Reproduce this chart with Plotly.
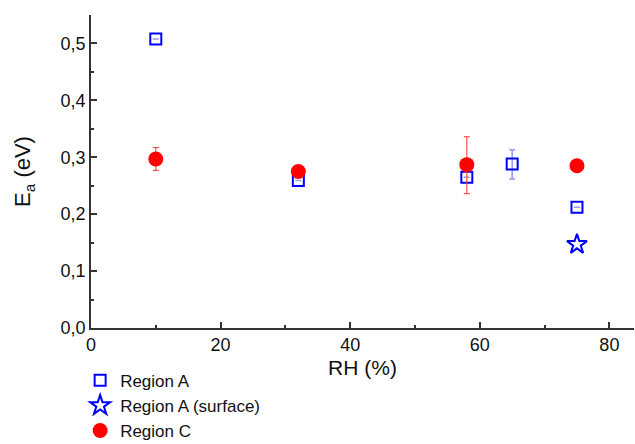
import plotly.graph_objects as go

# Data
rh_a = [10, 32, 58, 65, 75]
ea_a = [0.508, 0.259, 0.265, 0.288, 0.212]
err_a_plus = [0, 0, 0, 0.025, 0]
err_a_minus = [0, 0, 0, 0.026, 0]

rh_surf = [75]
ea_surf = [0.147]

rh_c = [10, 32, 58, 75]
ea_c = [0.297, 0.275, 0.287, 0.285]
err_c_plus = [0.020, 0, 0.049, 0]
err_c_minus = [0.020, 0, 0.051, 0]

fig = go.Figure()
fig.add_trace(go.Scatter(
    x=rh_a, y=ea_a, mode="markers", name="Region A",
    marker=dict(symbol="square-open", size=11, color="#0000ff", line=dict(width=2)),
    error_y=dict(type="data", symmetric=False, array=err_a_plus, arrayminus=err_a_minus,
                 color="rgba(80,80,255,0.6)", thickness=1.5, width=3),
))
fig.add_trace(go.Scatter(
    x=rh_surf, y=ea_surf, mode="markers", name="Region A (surface)",
    marker=dict(symbol="star-open", size=15, color="#0000ff", line=dict(width=2)),
))
fig.add_trace(go.Scatter(
    x=rh_c, y=ea_c, mode="markers", name="Region C",
    marker=dict(symbol="circle", size=15, color="#ff0000"),
    error_y=dict(type="data", symmetric=False, array=err_c_plus, arrayminus=err_c_minus,
                 color="#ff3030", thickness=1, width=3),
))

axis_common = dict(
    showline=True, linecolor="#333333", linewidth=1.5, mirror=False,
    showgrid=False, zeroline=False,
    ticks="inside", ticklen=6, tickwidth=1.5, tickcolor="#333333",
    tickfont=dict(family="Liberation Sans, Arial, sans-serif", size=18, color="#111111"),
)

fig.update_layout(
    width=635, height=444,
    margin=dict(l=91, r=1, t=15, b=116, autoexpand=False),
    paper_bgcolor="white", plot_bgcolor="white",
    separators=",.",
    font=dict(family="Liberation Sans, Arial, sans-serif", color="#111111"),
    xaxis=dict(
        range=[0, 83.8], tick0=0, dtick=20, tickformat="d",
        minor=dict(dtick=10, ticks="inside", ticklen=3, tickwidth=1.5, tickcolor="#333333"),
        title=dict(text="RH (%)", font=dict(size=21), standoff=6),
        **axis_common,
    ),
    yaxis=dict(
        range=[0, 0.55], tick0=0, dtick=0.1, tickformat=".1f",
        minor=dict(dtick=0.05, ticks="inside", ticklen=3, tickwidth=1.5, tickcolor="#333333"),
        title=dict(text="E<sub>a</sub> (eV)", font=dict(size=22), standoff=24),
        **axis_common,
    ),
    showlegend=True,
    legend=dict(
        x=-0.02, y=-0.111, xanchor="left", yanchor="top",
        font=dict(size=17), bgcolor="rgba(0,0,0,0)", tracegroupgap=0,
    ),
)

fig.write_html("out.html")
